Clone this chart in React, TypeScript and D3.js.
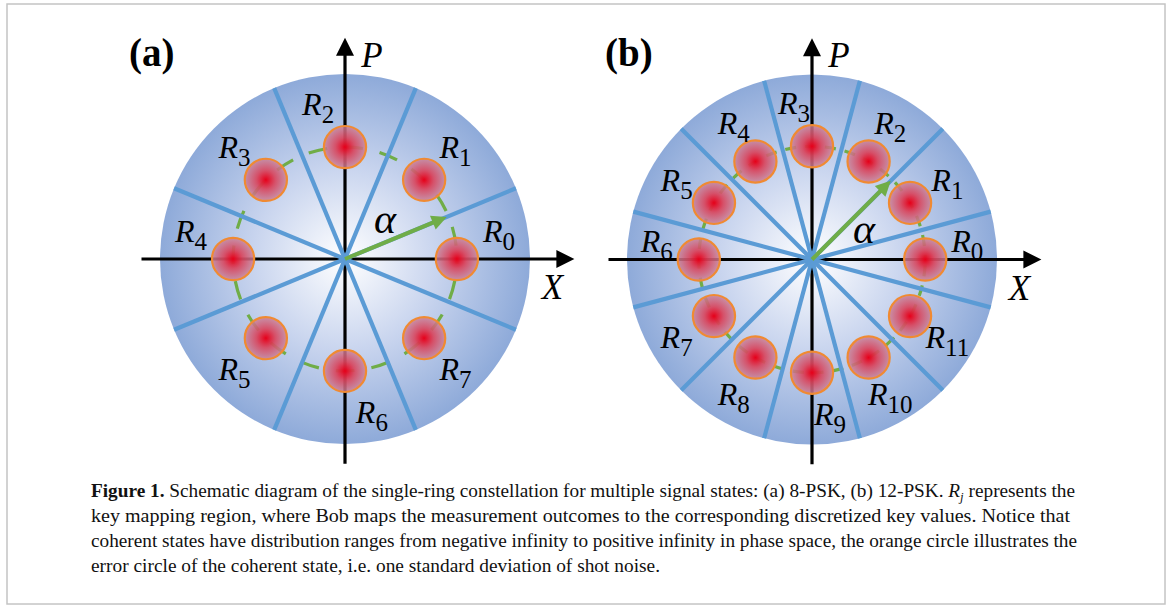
import React from "react";
import * as d3 from "d3";

// ---- data ----
const PANEL_TAGS = ["(a)", "(b)"];
const STATE_COUNTS = [8, 12]; // 8-PSK, 12-PSK
const RING_AMPLITUDE = [0.605, 0.612]; // |alpha| relative to disc radius
const NOISE_SIGMA = [0.114, 0.114]; // error-circle radius relative to disc radius
const ARROW_BOUNDARY = [0, 1]; // alpha arrow lies on boundary after region k
const AXIS_LABELS = ["X", "P"];
const CAPTION_LINES = [
  "key mapping region, where Bob maps the measurement outcomes to the corresponding discretized key values. Notice that",
  "coherent states have distribution ranges from negative infinity to positive infinity in phase space, the orange circle illustrates the",
  "error circle of the coherent state, i.e. one standard deviation of shot noise.",
];

const SERIF = "Liberation Serif, Tinos, Times New Roman, serif";

function Panel({ idx, cx, cy }: { idx: number; cx: number; cy: number }) {
  const R = 185;
  const x = d3.scaleLinear().domain([-1, 1]).range([cx - R, cx + R]);
  const y = d3.scaleLinear().domain([-1, 1]).range([cy + R, cy - R]);
  const k = x(1) - x(0);
  const n = STATE_COUNTS[idx];
  const step = (2 * Math.PI) / n;
  const amp = RING_AMPLITUDE[idx];
  const sig = NOISE_SIGMA[idx];
  const states = d3.range(n);
  const pol = (r: number, a: number) => [x(r * Math.cos(a)), y(r * Math.sin(a))];

  const arrowAng = (ARROW_BOUNDARY[idx] + 0.5) * step;
  const [ax, ay] = pol(amp - 0.01, arrowAng);
  const ahLen = 15, ahW = 7.5;
  const ux = Math.cos(arrowAng), uy = -Math.sin(arrowAng);
  const bx = ax - ux * ahLen, by = ay - uy * ahLen;
  const arrowHead = `M${ax},${ay}L${bx - uy * ahW},${by + ux * ahW}L${bx + uy * ahW},${by - ux * ahW}Z`;

  const dash = idx === 0 ? "19 17" : "11 9";
  const tag = PANEL_TAGS[idx];

  const xl = -1.1, xr = 1.24, yb = -1.107, yt = 1.196;
  const ah = 18, aw = 9;

  return (
    <g style={{ fontFamily: SERIF }}>
      <circle cx={x(0)} cy={y(0)} r={k} fill="url(#discGrad)" />
      {/* dashed ring */}
      <circle
        cx={x(0)}
        cy={y(0)}
        r={amp * k}
        fill="none"
        stroke="#70ad47"
        strokeWidth={3.2}
        strokeDasharray={dash}
        strokeDashoffset={idx === 0 ? -22 : -6}
      />
      {/* axes */}
      <line x1={x(xl)} y1={y(0)} x2={x(xr) - ah + 2} y2={y(0)} stroke="#000" strokeWidth={3.2} />
      <path d={`M${x(xr)},${y(0)}L${x(xr) - ah},${y(0) - aw}L${x(xr) - ah},${y(0) + aw}Z`} fill="#000" />
      <line x1={x(0)} y1={y(yb)} x2={x(0)} y2={y(yt) + ah - 2} stroke="#000" strokeWidth={3.2} />
      <path d={`M${x(0)},${y(yt)}L${x(0) - aw},${y(yt) + ah}L${x(0) + aw},${y(yt) + ah}Z`} fill="#000" />
      {/* region boundaries */}
      {states.map((i) => {
        const [ex, ey] = pol(1, (i + 0.5) * step);
        return <line key={"b" + i} x1={x(0)} y1={y(0)} x2={ex} y2={ey} stroke="#5b9bd5" strokeWidth={4.2} />;
      })}
      {/* coherent states */}
      {states.map((i) => {
        const [px, py] = pol(amp, i * step);
        return (
          <circle key={"s" + i} cx={px} cy={py} r={sig * k} fill="url(#dotGrad)" stroke="#f08a32" strokeWidth={2.2} />
        );
      })}
      {/* alpha arrow */}
      <line x1={x(0)} y1={y(0)} x2={bx + ux * 2} y2={by + uy * 2} stroke="#70ad47" strokeWidth={4} />
      <path d={arrowHead} fill="#70ad47" />
      <text
        x={x(0) + (idx === 0 ? 40 : 52)}
        y={y(0) - (idx === 0 ? 26 : 17)}
        fontStyle="italic"
        fontSize={42}
        textAnchor="middle"
      >
        α
      </text>
      {/* region labels */}
      {states.map((i) => {
        const base = i * step;
        const deg = Math.round((base * 180) / Math.PI);
        let off = 0;
        if (deg % 90 === 0) off = (deg === 180 ? -1 : 1) * 0.22 * step;
        const [lx, ly] = pol(0.845, base + off);
        return (
          <text key={"l" + i} x={lx} y={ly + 10} fontStyle="italic" fontSize={32} textAnchor="middle">
            R
            <tspan fontSize={25} dy={8} fontStyle="normal">
              {i}
            </tspan>
          </text>
        );
      })}
      {/* axis labels */}
      <text x={x(xr) - 22} y={y(0) + 40} fontStyle="italic" fontSize={35} textAnchor="middle">
        {AXIS_LABELS[0]}
      </text>
      <text x={x(0) + 27} y={y(yt) + 29} fontStyle="italic" fontSize={35} textAnchor="middle">
        {AXIS_LABELS[1]}
      </text>
      <text x={x(-1) - (idx === 0 ? 31 : 22)} y={66} fontWeight="bold" fontSize={39}>
        {tag}
      </text>
    </g>
  );
}

export default function App() {
  return (
    <svg
      width={1167}
      height={606}
      style={{ position: "absolute", left: 0, top: 0, display: "block", background: "#fff" }}
    >
      <defs>
        <radialGradient id="discGrad">
          <stop offset="0" stopColor="#ffffff" />
          <stop offset="0.5" stopColor="#c8d4ee" />
          <stop offset="1" stopColor="#8eaad9" />
        </radialGradient>
        <radialGradient id="dotGrad">
          <stop offset="0" stopColor="#e6001a" stopOpacity={1} />
          <stop offset="0.45" stopColor="#d8465e" stopOpacity={0.92} />
          <stop offset="1" stopColor="#c98298" stopOpacity={0.82} />
        </radialGradient>
      </defs>
      <rect x={7} y={4} width={1158} height={600} fill="#fff" stroke="#c4c4c4" strokeWidth={1.5} />
      <Panel idx={0} cx={345} cy={259} />
      <Panel idx={1} cx={812} cy={259.5} />
      <g style={{ fontFamily: SERIF }} fontSize={18} fill="#111">
        <text x={91} y={497} textLength={984} lengthAdjust="spacingAndGlyphs">
          <tspan fontWeight="bold">Figure 1.</tspan> Schematic diagram of the single-ring constellation for multiple
          signal states: (a) 8-PSK, (b) 12-PSK. <tspan fontStyle="italic">R</tspan>
          <tspan fontSize={12} dy={4} fontStyle="italic">j</tspan>
          <tspan dy={-4}> represents the</tspan>
        </text>
        {CAPTION_LINES.map((t, i) => (
          <text
            key={i}
            x={91}
            y={522 + i * 25}
            textLength={[979, 986, 569][i]}
            lengthAdjust="spacingAndGlyphs"
          >
            {t}
          </text>
        ))}
      </g>
    </svg>
  );
}
